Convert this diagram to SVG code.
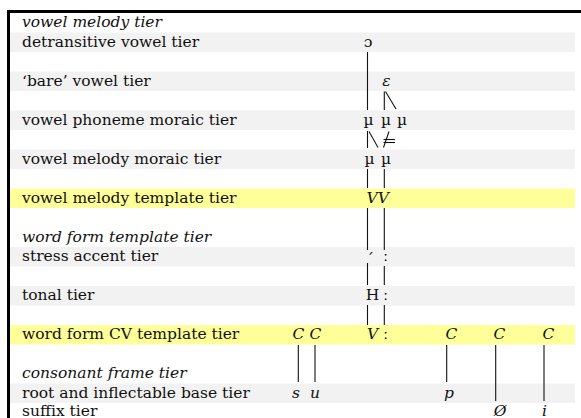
<svg xmlns="http://www.w3.org/2000/svg" width="581" height="418" viewBox="0 0 581 418">
  <style>
    .band { fill: #f2f2f2; }
    .hl { fill: #ffff99; }
    text { font-family: "DejaVu Serif", "Liberation Serif", serif; font-size: 15.5px; fill: #111; }
    .it { font-style: italic; }
    .sym { text-anchor: middle; }
    .c line, .c path { stroke: #111; stroke-width: 1.1; fill: none; }
  </style>

  <!-- row shading -->
  <g id="bands">
    <rect class="band" x="10" y="32.5" width="565" height="19.5"/>
    <rect class="band" x="10" y="71.5" width="565" height="19.5"/>
    <rect class="band" x="10" y="110.5" width="565" height="19.5"/>
    <rect class="band" x="10" y="149.5" width="565" height="19.5"/>
    <rect class="hl" x="10" y="188.5" width="565" height="19.5"/>
    <rect class="band" x="10" y="247" width="565" height="19.5"/>
    <rect class="band" x="10" y="286" width="565" height="19.5"/>
    <rect class="hl" x="10" y="325" width="565" height="19.5"/>
    <rect class="band" x="10" y="383.5" width="565" height="19.5"/>
  </g>

  <!-- frame -->
  <path d="M8.5 420 V11.5 H590" stroke="#000" stroke-width="3" fill="none"/>

  <!-- tier labels -->
  <g id="labels">
    <text class="it" x="22" y="27">vowel melody tier</text>
    <text x="22" y="46.5">detransitive vowel tier</text>
    <text x="22" y="85.5">‘bare’ vowel tier</text>
    <text x="22" y="124.5">vowel phoneme moraic tier</text>
    <text x="22" y="163.5">vowel melody moraic tier</text>
    <text x="22" y="202.5">vowel melody template tier</text>
    <text class="it" x="22" y="241.5">word form template tier</text>
    <text x="22" y="261">stress accent tier</text>
    <text x="22" y="300">tonal tier</text>
    <text x="22" y="339">word form CV template tier</text>
    <text class="it" x="22" y="378">consonant frame tier</text>
    <text x="22" y="397.5">root and inflectable base tier</text>
    <text x="22" y="415.5">suffix tier</text>
  </g>

  <!-- connectors -->
  <g id="connectors" class="c">
    <line x1="367.5" y1="52" x2="367.5" y2="110"/>
    <line x1="384.3" y1="91.5" x2="384.3" y2="110"/>
    <line x1="385.5" y1="91.5" x2="396" y2="109"/>
    <line x1="367.5" y1="131" x2="367.5" y2="148"/>
    <line x1="369" y1="131.5" x2="378" y2="147.5"/>
    <line x1="389" y1="131.5" x2="383.5" y2="147.5"/>
    <line x1="383.5" y1="139.5" x2="395" y2="139.5"/>
    <line x1="383.5" y1="142.5" x2="395" y2="142.5"/>
    <line x1="367.5" y1="169" x2="367.5" y2="188"/>
    <line x1="384.3" y1="169" x2="384.3" y2="188"/>
    <line x1="367.5" y1="208" x2="367.5" y2="250"/>
    <line x1="384.3" y1="208" x2="384.3" y2="250"/>
    <line x1="367.5" y1="263" x2="367.5" y2="285"/>
    <line x1="384.3" y1="266" x2="384.3" y2="285"/>
    <line x1="367.5" y1="305" x2="367.5" y2="325"/>
    <line x1="384.3" y1="305" x2="384.3" y2="325"/>
    <line x1="298.3" y1="345" x2="298.3" y2="382"/>
    <line x1="315" y1="345" x2="315" y2="382"/>
    <line x1="446.7" y1="345" x2="446.7" y2="382"/>
    <line x1="495.7" y1="345" x2="495.7" y2="401"/>
    <line x1="544" y1="345" x2="544" y2="401"/>
  </g>

  <!-- tier segments -->
  <g id="open-o"><text class="sym" x="368" y="46.5">ɔ</text></g>
  <g id="epsilon"><text class="sym it" x="386.5" y="85.5">ε</text></g>
  <g id="mu-phoneme">
    <text class="sym" x="368.5" y="124.5">µ</text>
    <text class="sym" x="386" y="124.5">µ</text>
    <text class="sym" x="402" y="124.5">µ</text>
  </g>
  <g id="mu-melody">
    <text class="sym" x="369.5" y="163.5">µ</text>
    <text class="sym" x="386" y="163.5">µ</text>
  </g>
  <g id="vv"><text class="it" x="366.5" y="202.5">VV</text></g>
  <g id="stress">
    <text class="sym" x="370" y="264">´</text>
    <text class="sym" x="385.5" y="261">ː</text>
  </g>
  <g id="tone">
    <text class="sym" x="372.5" y="300">H</text>
    <text class="sym" x="385.5" y="300">ː</text>
  </g>
  <g id="cv-template">
    <text class="sym it" x="298.5" y="339">C</text>
    <text class="sym it" x="315.5" y="339">C</text>
    <text class="sym it" x="372.5" y="339">V</text>
    <text class="sym" x="385.5" y="339">ː</text>
    <text class="sym it" x="451.5" y="339">C</text>
    <text class="sym it" x="499.5" y="339">C</text>
    <text class="sym it" x="548.5" y="339">C</text>
  </g>
  <g id="root">
    <text class="sym it" x="296" y="397.5">s</text>
    <text class="sym it" x="315" y="397.5">u</text>
    <text class="sym it" x="449" y="397.5">p</text>
  </g>
  <g id="suffix">
    <text class="sym it" x="500" y="415.5">Ø</text>
    <text class="sym it" x="544.5" y="415.5">i</text>
  </g>
</svg>
